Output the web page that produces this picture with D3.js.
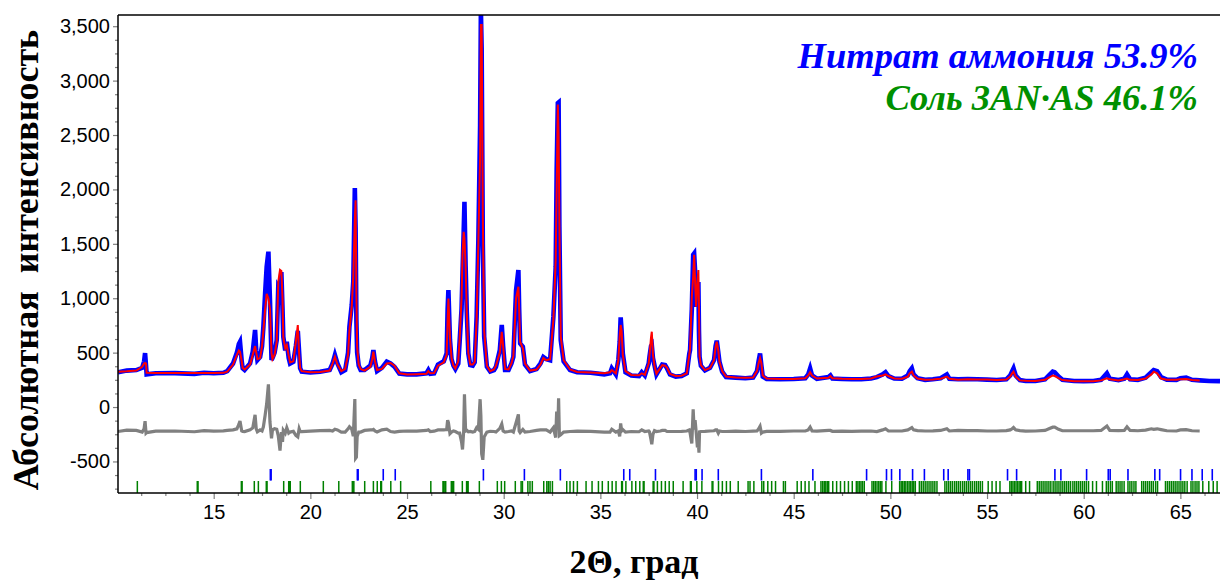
<!DOCTYPE html>
<html><head><meta charset="utf-8">
<script src="https://cdn.jsdelivr.net/npm/d3@7"></script>
<style>body{margin:0;background:#fff;overflow:hidden}</style>
</head><body>
<svg id="chart" width="1220" height="581"></svg>
<script>
// ---------- data ----------
const twoTheta = [
  10.05,10.5,11.0,11.3,11.4,11.45,11.5,11.53,12.0,13.0,14.0,14.5,15.0,15.5,
  15.7,16.0,16.2,16.3,16.36,16.45,16.5,16.6,16.88,17.02,17.14,17.2,17.26,17.4,17.5,17.57,17.66,17.74,17.83,17.91,17.99,18.04,18.15,18.26,18.34,18.43,18.5,18.56,18.6,18.7,18.78,18.88,18.95,19.12,19.25,19.35,19.42,19.47,19.55,
  20.0,20.5,21.0,21.15,21.27,21.4,21.6,21.8,21.95,22.02,22.14,22.22,22.3,22.34,22.38,22.42,22.5,22.6,22.8,23.1,23.2,23.26,23.34,23.45,23.7,23.95,24.15,24.35,24.6,
  25.0,25.5,26.0,26.1,26.2,26.4,26.6,26.9,27.05,27.1,27.14,27.22,27.3,27.4,27.5,27.65,27.72,27.82,27.87,27.93,27.97,28.03,28.09,28.17,28.27,28.4,28.5,28.6,28.69,28.78,28.82,28.86,28.92,28.99,29.13,29.3,29.5,29.6,29.8,29.9,29.97,30.07,30.25,30.4,30.5,30.64,30.76,30.8,30.85,30.99,31.1,
  31.36,31.7,31.9,32.05,32.2,32.4,32.57,32.69,32.74,32.8,32.84,32.88,32.95,33.1,33.43,33.8,34.5,35.2,
  35.5,35.59,35.8,35.93,36.0,36.05,36.1,36.16,36.3,36.6,37.0,37.14,37.3,37.5,37.54,37.62,37.66,37.72,37.8,37.9,38.1,38.2,38.35,38.45,38.6,38.9,39.2,39.47,39.6,39.64,39.73,39.8,39.85,39.9,39.95,40.02,40.07,40.1,40.13,40.2,40.41,40.67,40.88,40.96,41.02,41.1,41.16,41.3,41.5,
  42.0,42.5,42.9,43.1,43.18,43.26,43.33,43.4,43.6,44.3,45.0,45.6,45.75,45.85,45.95,46.2,46.8,46.9,47.0,47.5,48.0,48.5,49.0,49.3,49.6,49.75,49.9,50.2,50.6,50.9,51.0,51.11,51.2,51.4,51.8,52.2,52.6,52.92,53.05,53.5,54.0,54.5,55.0,55.5,56.0,56.2,56.3,56.37,56.48,56.7,57.0,57.5,58.0,58.2,58.4,58.5,58.7,58.9,59.5,60.0,60.5,60.9,61.2,61.35,61.8,62.1,62.24,62.4,62.8,63.2,63.5,63.62,63.8,64.0,64.3,64.8,65.0,65.3,65.6,66.0,66.5,67.05
];
const observed = [
  320,335,340,360,420,496,380,300,310,312,305,315,310,315,
  330,400,500,580,600,420,356,340,400,508,708,520,432,460,560,738,1045,1290,1428,983,432,450,500,616,1106,1080,1240,900,646,520,600,450,400,417,560,700,500,356,325,
  318,325,340,400,478,400,320,340,500,738,937,1152,2013,1650,800,500,380,340,340,380,450,524,420,330,360,417,400,370,307,
  300,300,310,340,305,310,390,420,493,900,1075,616,440,380,350,400,600,900,1230,1610,1887,1300,876,493,386,380,410,830,1535,2592,3650,3300,1500,646,370,327,340,370,524,754,560,340,340,400,460,1075,1259,900,585,554,390,
  330,350,400,460,440,430,830,1290,2178,2794,2800,1657,616,420,340,320,315,300,
  310,356,300,432,600,824,700,493,320,290,285,320,290,400,462,560,570,450,383,300,360,390,386,355,300,280,285,310,490,524,900,1400,1412,1250,922,1000,1150,700,462,380,336,360,432,560,610,500,415,325,275,
  270,265,270,330,417,493,380,280,258,255,258,265,300,356,290,260,275,290,262,258,255,256,262,275,300,320,285,262,260,290,330,356,300,265,250,255,265,300,260,255,258,256,252,248,255,290,330,356,290,248,240,240,255,290,325,320,280,250,240,238,240,250,310,260,248,260,300,255,250,270,320,340,330,275,252,250,265,270,250,245,240,238
];
const calculated = [
  325,328,335,370,400,405,400,315,312,312,312,312,312,314,
  325,390,480,520,508,420,360,345,390,480,560,500,440,450,560,700,900,1040,1000,900,500,440,480,600,1150,1260,1250,1000,640,540,570,470,410,420,600,754,480,360,330,
  320,322,335,400,462,390,330,350,480,700,920,1200,1720,1900,1040,550,390,350,335,370,440,510,420,340,350,400,405,380,310,
  300,302,305,330,310,312,380,410,480,800,998,640,450,380,355,420,620,1000,1400,1611,1550,1300,870,500,390,390,415,800,1520,2300,3511,3511,1765,700,380,330,345,380,500,690,560,350,345,400,470,1000,1106,900,600,540,400,
  335,345,390,450,430,440,800,1350,2000,2780,2500,1700,650,430,345,322,318,310,
  320,340,310,430,650,754,700,480,330,295,292,310,295,400,470,640,692,480,380,305,360,385,380,360,305,285,288,310,480,540,1014,1200,1400,1150,922,1150,1259,900,470,385,340,360,430,550,600,520,415,330,280,
  272,270,272,330,400,450,400,290,262,258,258,265,290,320,290,262,270,285,265,260,258,258,262,280,290,300,285,262,260,280,310,325,290,262,250,254,260,280,260,250,255,252,252,248,252,280,310,325,280,245,242,240,250,270,290,285,265,248,238,236,238,245,265,255,245,255,262,250,248,262,300,325,310,262,250,250,255,258,248,245,242,240
];
const diffOffset = -220;      // the difference curve is drawn shifted to this level
const calcEnd = 66.2;         // calculated / difference curves stop here
const xTicks = [15,20,25,30,35,40,45,50,55,60,65];
const yTicks = [-500,0,500,1000,1500,2000,2500,3000,3500];
const braggAN = [17.93,17.97,22.43,22.47,23.77,24.39,28.95,31.07,32.93,36.21,36.52,37.85,39.9,39.96,40.26,41.1,43.33,45.99,48.77,49.8,50.06,50.49,51.15,51.76,52.76,52.99,54.01,54.09,56.06,56.53,58.51,58.82,60.15,61.27,61.37,62.29,63.68,63.93,65.01,65.6,66.13,66.65];
const braggSalt = [11.05,14.15,14.19,16.43,16.47,17.1,17.31,17.72,17.76,18.62,18.88,18.92,18.96,19.48,20.67,21.47,22.17,22.21,22.25,22.81,23.26,23.46,23.64,23.68,24.16,24.67,26.23,26.86,26.9,26.96,27.0,27.29,27.33,27.37,27.41,27.86,28.08,28.12,28.16,28.74,29.67,29.88,30.05,30.6,30.9,30.97,31.25,31.36,31.48,32.07,32.23,32.31,32.4,32.52,33.26,33.43,33.61,33.81,34.26,34.57,34.9,
  35.1,35.41,35.61,35.81,36.1,36.14,36.32,36.63,36.83,37.04,37.22,37.26,37.73,37.77,37.95,38.16,38.36,38.56,38.77,39.28,39.66,39.7,39.99,40.25,40.78,40.82,41.11,41.31,41.52,41.72,42.13,42.64,42.74,42.94,43.35,43.45,43.66,43.86,44.06,44.47,44.57,45.18,45.39,45.59,45.79,46.1,46.41,46.5,46.58,46.66,46.74,46.81,47.02,47.22,47.42,47.63,47.83,48.03,48.24,48.32,48.4,48.48,48.56,48.65,49.05,49.14,49.22,49.31,49.4,49.48,49.56,49.77,50.07,50.48,50.56,50.64,50.72,50.8,50.89,50.97,51.05,51.13,51.21,51.29,51.5,51.6,51.7,51.8,51.9,52.0,52.1,52.2,52.3,52.41,52.82,52.92,53.02,53.12,53.22,53.33,53.43,53.53,53.63,53.74,53.84,53.94,54.04,54.14,54.24,54.35,54.45,54.55,54.65,54.76,55.06,55.26,55.47,55.67,56.18,56.26,56.34,56.42,56.5,56.58,56.66,56.74,56.79,57.0,57.2,57.6,57.7,57.8,57.9,58.0,58.1,58.2,58.3,58.42,58.52,58.62,58.72,58.82,58.92,59.02,59.12,59.22,59.32,59.44,59.54,59.64,59.74,59.84,59.94,60.04,60.14,60.25,60.46,60.66,60.97,61.17,61.27,61.38,61.48,61.68,61.78,61.88,61.98,62.09,62.29,62.39,62.49,62.6,62.7,63.0,63.1,63.2,63.3,63.4,63.5,63.6,63.72,63.82,64.23,64.33,64.43,64.53,64.63,64.73,64.83,64.93,65.03,65.13,65.23,65.35,65.55,65.65,65.76,65.86,65.96,66.16,66.47,66.7,66.9];
const legendLabels = ["Нитрат аммония 53.9%", "Соль 3AN·AS 46.1%"];
const yTitle = "Абсолютная  интенсивность";
const xTitle = "2Θ, град";

// ---------- layout ----------
const svg = d3.select("#chart");
const L = 118, R = 1220, T = 15, B = 493;
const x = d3.scaleLinear().domain([10.05, 67.05]).range([L, R]);
const y = d3.scaleLinear().domain([-790, 3603]).range([B, T]);

const n = Math.min(twoTheta.length, observed.length, calculated.length);
const pts = d3.range(n).map(i => ({t: twoTheta[i], o: observed[i], c: calculated[i]}));

svg.append("defs").append("clipPath").attr("id","clip")
  .append("rect").attr("x",L).attr("y",T).attr("width",R-L).attr("height",B-T);

// axes (ticks)
const fmt = d => d3.format(",")(d).replace("\u2212","-");
const yMinor = d3.range(-750, 3601, 125).filter(v => v % 500 !== 0);
const xMinor = d3.range(11.25, 67.1, 1.25).filter(v => Math.abs(v/5 - Math.round(v/5)) > 1e-6);

const gy = svg.append("g").attr("transform",`translate(${L},0)`)
  .call(d3.axisLeft(y).tickValues(yTicks).tickFormat(fmt).tickSize(5).tickPadding(3));
const gyMin = svg.append("g").attr("transform",`translate(${L},0)`)
  .call(d3.axisLeft(y).tickValues(yMinor).tickFormat("").tickSize(3));
const gx = svg.append("g").attr("transform",`translate(0,${B})`)
  .call(d3.axisBottom(x).tickValues(xTicks).tickFormat(d3.format("d")).tickSize(6).tickPadding(6));
const gxMin = svg.append("g").attr("transform",`translate(0,${B})`)
  .call(d3.axisBottom(x).tickValues(xMinor).tickFormat("").tickSize(3));
[gy,gyMin,gx,gxMin].forEach(g => {
  g.select(".domain").remove();
  g.selectAll(".tick line").attr("stroke","#808080").attr("stroke-width",1.2);
  g.selectAll("text").attr("font-family","'Liberation Sans', Arial, sans-serif")
    .attr("font-size",20).attr("fill","#000");
});

// Bragg position markers
const plot = svg.append("g").attr("clip-path","url(#clip)");
plot.append("g").selectAll("line").data(braggSalt).join("line")
  .attr("x1", d => x(d)).attr("x2", d => x(d))
  .attr("y1", 481).attr("y2", B)
  .attr("stroke","#008000").attr("stroke-width",1.5);
plot.append("g").selectAll("line").data(braggAN).join("line")
  .attr("x1", d => x(d)).attr("x2", d => x(d))
  .attr("y1", 469).attr("y2", 480.5)
  .attr("stroke","#0000ff").attr("stroke-width",1.6);

// curves
const lineObs = d3.line().x(d => x(d.t)).y(d => y(d.o));
const lineCalc = d3.line().defined(d => d.t <= calcEnd).x(d => x(d.t)).y(d => y(d.c));
const lineDiff = d3.line().defined(d => d.t <= calcEnd).x(d => x(d.t)).y(d => y(d.o - d.c + diffOffset));

plot.append("path").datum(pts).attr("d", lineDiff)
  .attr("fill","none").attr("stroke","#808080").attr("stroke-width",3.2);
plot.append("path").datum(pts).attr("d", lineObs)
  .attr("fill","none").attr("stroke","#0000ff").attr("stroke-width",4.6);
plot.append("path").datum(pts).attr("d", lineCalc)
  .attr("fill","none").attr("stroke","#ff0000").attr("stroke-width",2);

// frame
svg.append("line").attr("x1",L).attr("x2",L).attr("y1",T).attr("y2",B).attr("stroke","#000").attr("stroke-width",1.5);
svg.append("line").attr("x1",L).attr("x2",R).attr("y1",T).attr("y2",T).attr("stroke","#000").attr("stroke-width",1.5);
svg.append("line").attr("x1",L).attr("x2",R).attr("y1",B).attr("y2",B).attr("stroke","#000").attr("stroke-width",1.5);

// legend
const legColors = ["#0000ff", "#009000"];
svg.append("g").selectAll("text").data(legendLabels).join("text")
  .attr("x", 1198).attr("y", (d,i) => 68 + i*42)
  .attr("text-anchor","end")
  .attr("font-family","'Liberation Serif', 'Times New Roman', serif")
  .attr("font-weight","bold").attr("font-style","italic")
  .attr("font-size",36.5)
  .attr("fill", (d,i) => legColors[i])
  .text(d => d);

// axis titles
svg.append("text")
  .attr("transform","translate(38,260) rotate(-90)")
  .attr("text-anchor","middle")
  .attr("font-family","'Liberation Serif', 'Times New Roman', serif")
  .attr("font-weight","bold").attr("font-size",36)
  .attr("xml:space","preserve")
  .style("white-space","pre")
  .text(yTitle);
svg.append("text")
  .attr("x",634).attr("y",573)
  .attr("text-anchor","middle")
  .attr("font-family","'Liberation Serif', 'Times New Roman', serif")
  .attr("font-weight","bold").attr("font-size",34)
  .text(xTitle);
</script>
</body></html>
